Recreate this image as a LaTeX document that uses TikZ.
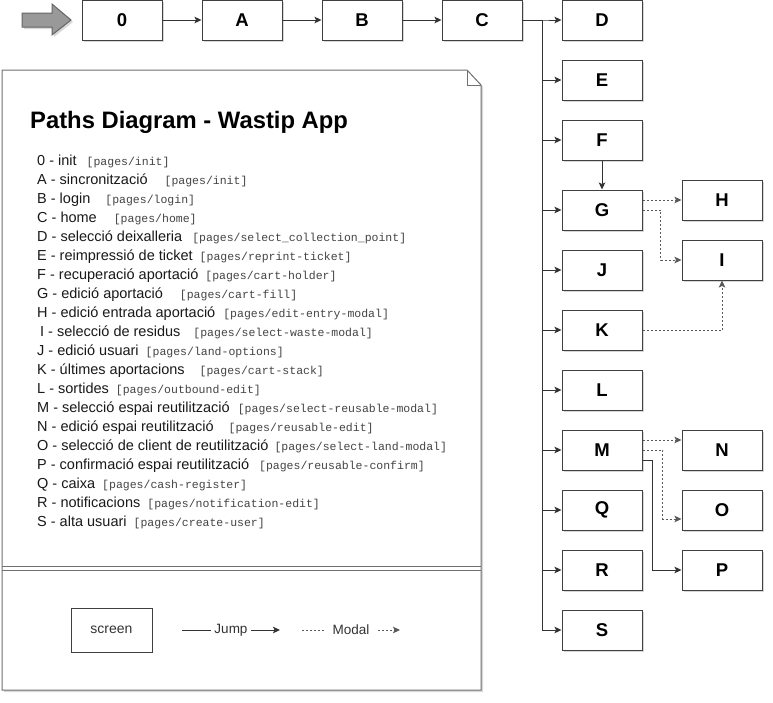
\documentclass[tikz,border=0pt]{standalone}
\usepackage{fontspec}
\setmainfont{Liberation Sans}
\newfontfamily\pmono{Liberation Mono}
\usetikzlibrary{arrows.meta,shadows}
\definecolor{edge}{HTML}{333333}
\definecolor{boxline}{HTML}{404040}
\definecolor{arrowfill}{HTML}{999999}
\definecolor{arrowline}{HTML}{666666}
\definecolor{monotext}{HTML}{444444}
\definecolor{noteline}{HTML}{707070}
\tikzset{
  shad/.style={drop shadow={shadow xshift=2pt,shadow yshift=-2pt,opacity=0.25,fill=black!60}},
  scr/.style={draw=boxline, line width=1pt, fill=white, shad, minimum width=80pt, minimum height=40pt, inner sep=0pt, font=\fontsize{18.5}{20}\selectfont\bfseries},
  jump/.style={draw=edge, line width=1pt, -{Stealth[length=7pt,width=6.5pt,inset=1.5pt]}},
  modal/.style={jump, draw=black!65, dash pattern=on 2pt off 2pt},
  item/.style={anchor=base west, inner sep=0pt, font=\fontsize{14.5}{17}\selectfont, text=black!90},
  legtext/.style={fill=white, inner ysep=1pt, font=\fontsize{13.5}{15}\selectfont, text=black!80}
}
\begin{document}
\begin{tikzpicture}[x=1pt,y=-1pt]
\fill[white] (0,0) rectangle (773,702);
\useasboundingbox (0,0) rectangle (773,702);

% start arrow
\draw[fill=arrowfill, draw=arrowline, line width=1pt, shad] (22,13) -- (52,13) -- (52,4) -- (71,20) -- (52,35) -- (52,27) -- (22,27) -- cycle;

% note panel
\draw[draw=noteline, line width=1pt, fill=white, shad] (2,70) -- (467,70) -- (481,85) -- (481,690) -- (2,690) -- cycle;
\draw[draw=noteline, line width=1pt] (467,70) -- (467,85) -- (481,85);
\draw[draw=noteline, line width=1pt] (2,566) -- (481,566);
\draw[draw=noteline, line width=1pt] (2,570) -- (481,570);

\node[anchor=base west, inner sep=0pt, font=\fontsize{23.8}{26}\selectfont\bfseries] (title) at (30,128) {Paths Diagram - Wastip App};

\foreach \i/\lbl/\g/\pg in {
0/{0 - init}/10/init,
1/{A - sincronització}/17/init,
2/{B - login}/15/login,
3/{C - home}/17/home,
4/{D - selecció deixalleria}/10/select\_collection\_point,
5/{E - reimpressió de ticket}/7/reprint-ticket,
6/{F - recuperació aportació}/7/cart-holder,
7/{G - edició aportació}/17/cart-fill,
8/{H - edició entrada aportació}/8/edit-entry-modal,
9/{\hspace*{3pt}I - selecció de residus}/13/select-waste-modal,
10/{J - edició usuari}/7/land-options,
11/{K - últimes aportacions}/15/cart-stack,
12/{L - sortides}/7/outbound-edit,
13/{M - selecció espai reutilització}/8/select-reusable-modal,
14/{N - edició espai reutilització}/15/reusable-edit,
15/{O - selecció de client de reutilització}/6/select-land-modal,
16/{P - confirmació espai reutilització}/10/reusable-confirm,
17/{Q - caixa}/7/cash-register,
18/{R - notificacions}/7/notification-edit,
19/{S - alta usuari}/7/create-user}
{\node[item] (li\i) at (37,165+19*\i) {\lbl\hspace{\g pt}{\pmono\fontsize{11.5}{13}\selectfont\color{monotext}[pages/\pg]}};}

% legend
\node[draw=boxline, line width=1pt, minimum width=81pt, minimum height=44pt, inner sep=0pt, font=\fontsize{14}{16}\selectfont, text=black!80] (screen) at (111.5,630) {screen};
\coordinate (j1) at (182,630);
\coordinate (j2) at (280,630);
\draw[jump] (j1) -- node[legtext, inner xsep=3.5pt] (jumplbl) {Jump} (j2);
\coordinate (m1) at (302,630);
\coordinate (m2) at (400,630);
\draw[modal] (m1) -- node[legtext, inner xsep=6.5pt] (modallbl) {Modal} (m2);

% screens
\node[scr] (n0) at (122,20) {0};
\node[scr] (nA) at (242,20) {A};
\node[scr] (nB) at (362,20) {B};
\node[scr] (nC) at (482,20) {C};
\node[scr] (nD) at (602,20) {D};
\node[scr] (nE) at (602,80) {E};
\node[scr] (nF) at (602,140) {F};
\node[scr] (nG) at (602,210) {G};
\node[scr] (nJ) at (602,270) {J};
\node[scr] (nK) at (602,330) {K};
\node[scr] (nL) at (602,390) {L};
\node[scr] (nM) at (602,450) {M};
\node[scr] (nQ) at (602,510) {Q};
\node[scr] (nR) at (602,570) {R};
\node[scr] (nS) at (602,630) {S};
\node[scr] (nH) at (722,200) {H};
\node[scr] (nI) at (722,260) {I};
\node[scr] (nN) at (722,450) {N};
\node[scr] (nO) at (722,510) {O};
\node[scr] (nP) at (722,570) {P};

% jumps
\draw[jump] (n0) -- (nA);
\draw[jump] (nA) -- (nB);
\draw[jump] (nB) -- (nC);
\foreach \t in {D,E,F,G,J,K,L,M,Q,R,S}
  \draw[jump] (nC.east) -- ++(20,0) |- (n\t.west);
\draw[jump] (nF) -- (nG);
\draw[jump] ([yshift=-10pt]nM.east) -- ++(10,0) |- (nP.west);

% modals
\draw[modal] ([yshift=10pt]nG.east) -- (nH.west);
\draw[modal] (nG.east) -- ++(18,0) |- (nI.west);
\draw[modal] (nK.east) -| (nI.south);
\draw[modal] ([yshift=10pt]nM.east) -- ([yshift=10pt]nN.west);
\draw[modal] (nM.east) -- ++(20,0) |- ([yshift=-9pt]nO.west);
\end{tikzpicture}
\end{document}
